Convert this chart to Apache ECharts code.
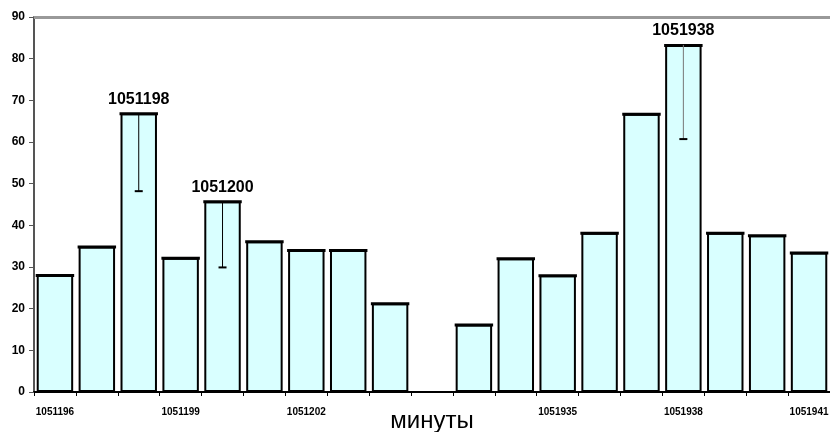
<!DOCTYPE html>
<html><head><meta charset="utf-8">
<script src="https://cdn.jsdelivr.net/npm/echarts@6/dist/echarts.min.js"></script>
<style>html,body{margin:0;padding:0;background:#fff}#c{width:830px;height:432px}</style>
</head><body><div id="c"></div>
<script>
const categories = ['1051196','1051197','1051198','1051199','1051200','1051201','1051202','1051203','1051204','',
  '1051933','1051934','1051935','1051936','1051937','1051938','1051939','1051940','1051941'];
const values = [28.1, 34.9, 66.9, 32.2, 45.8, 36.2, 34.1, 34.1, 21.3, null,
  16.2, 32.1, 28.0, 38.2, 66.8, 83.3, 38.2, 37.6, 33.5];
// error bars: [category index, lower value]
const errorLow = [[2, 48.2], [4, 29.9], [15, 60.7]];
const errorColors = ['#000', '#000', '#777'];
const labelled = [2, 4, 15];
const yTicks = {min: 0, max: 90, interval: 10};
const axisName = 'минуты';

const FONT = "'Liberation Sans', Arial, sans-serif";

const barData = values.map((v, i) => {
  if (labelled.indexOf(i) >= 0) {
    return {value: v, label: {show: true, position: 'top', distance: 6,
      formatter: categories[i], fontFamily: FONT, fontWeight: 'bold', fontSize: 16, color: '#000'}};
  }
  return v;
});

const chart = echarts.init(document.getElementById('c'));
chart.setOption({
  animation: false,
  grid: {left: 34, right: 0, top: 17, bottom: 40, containLabel: false, outerBoundsMode: 'none'},
  xAxis: {
    type: 'category', data: categories,
    name: axisName, nameLocation: 'middle', nameGap: 17, nameMoveOverlap: false,
    nameTextStyle: {fontFamily: FONT, fontSize: 24, color: '#000', verticalAlign: 'top'},
    axisLine: {lineStyle: {color: '#000', width: 2}},
    axisTick: {show: true, alignWithLabel: false, interval: 0, length: 4, lineStyle: {color: '#000'}},
    axisLabel: {interval: 2, margin: 15, fontFamily: FONT, fontWeight: 'bold', fontSize: 10, color: '#000'}
  },
  yAxis: {
    type: 'value', min: yTicks.min, max: yTicks.max, interval: yTicks.interval,
    splitLine: {show: false},
    axisLine: {show: true, lineStyle: {color: '#555', width: 2}},
    axisTick: {show: true, length: 5, lineStyle: {color: '#555'}},
    axisLabel: {margin: 9, fontFamily: FONT, fontWeight: 'bold', fontSize: 12, color: '#000'}
  },
  series: [
    {
      type: 'bar', data: barData, barCategoryGap: '13%',
      itemStyle: {color: '#d9ffff', borderColor: '#000', borderWidth: 2},
      markLine: {silent: true, symbol: ['none','none'], label: {show: false},
        lineStyle: {color: '#999', width: 3, type: 'solid'}, data: [{yAxis: 90}]}
    },
    {
      type: 'custom', silent: true,
      data: values.map((v, i) => [i, v]).filter(d => d[1] != null),
      renderItem: function (params, api) {
        const i = api.value(0), v = api.value(1);
        const p = api.coord([i, v]);
        const w = api.size([1, 0])[0] * 0.87;
        return {type: 'line', shape: {x1: p[0] - w/2 - 1, y1: p[1] + 0.5, x2: p[0] + w/2 + 1, y2: p[1] + 0.5},
          style: {stroke: '#000', lineWidth: 3}};
      },
      z: 3
    },
    {
      type: 'custom', silent: true,
      data: errorLow.map((e, k) => [e[0], values[e[0]], e[1], k]),
      renderItem: function (params, api) {
        const i = api.value(0);
        const top = api.coord([i, api.value(1)]);
        const low = api.coord([i, api.value(2)]);
        const col = errorColors[api.value(3)];
        return {type: 'group', children: [
          {type: 'line', shape: {x1: top[0], y1: top[1], x2: low[0], y2: low[1]}, style: {stroke: col, lineWidth: 1}},
          {type: 'line', shape: {x1: low[0] - 4, y1: low[1], x2: low[0] + 4, y2: low[1]}, style: {stroke: '#000', lineWidth: 2}}
        ]};
      },
      z: 4
    }
  ]
});
</script></body></html>
